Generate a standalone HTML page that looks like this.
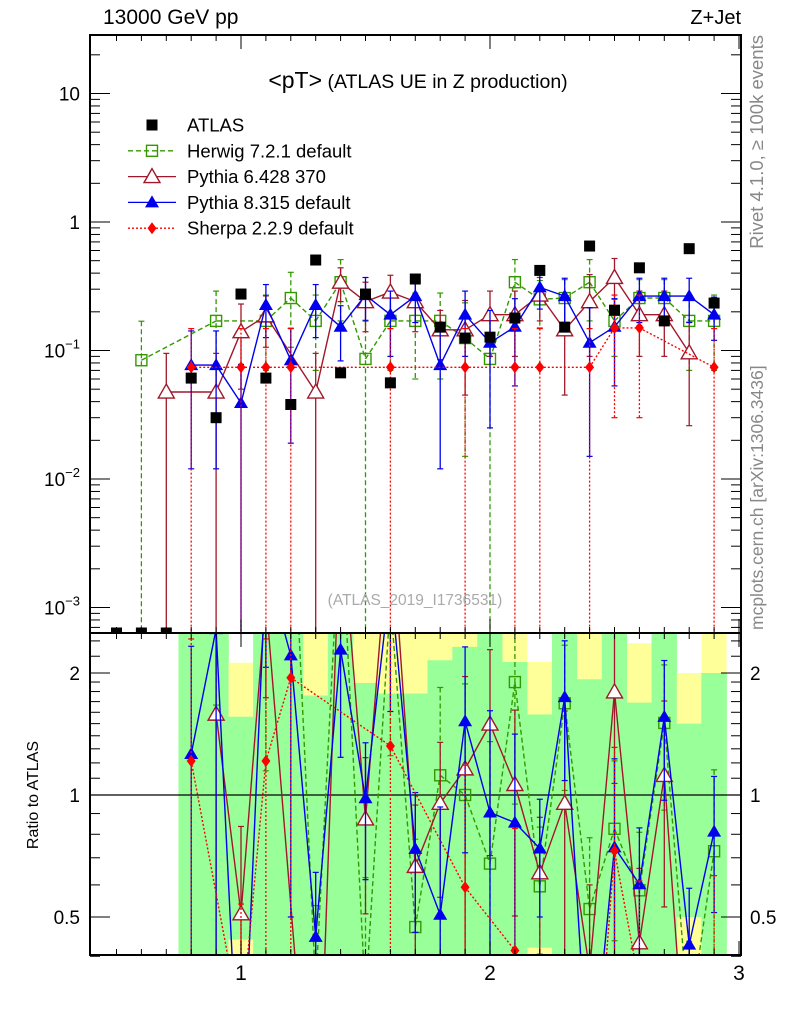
<!DOCTYPE html>
<html><head><meta charset="utf-8"><style>
html,body{margin:0;background:#fff;overflow:hidden;width:786px;height:1024px;}
svg{display:block;font-family:"Liberation Sans",sans-serif;}
</style></head><body>
<svg id="c" width="786" height="1024" xmlns="http://www.w3.org/2000/svg">
<defs>
<clipPath id="cm"><rect x="90" y="35" width="651" height="598"/></clipPath>
<clipPath id="cr"><rect x="90" y="633" width="651" height="322"/></clipPath>
</defs>
<g id="bands" clip-path="url(#cr)"></g>
<g id="main" clip-path="url(#cm)"></g>
<g id="ratio" clip-path="url(#cr)"></g>
<g id="axes"></g>
<text x="103" y="24" font-size="21">13000 GeV pp</text>
<text x="741" y="24" font-size="20" text-anchor="end">Z+Jet</text>
<text x="418" y="88" text-anchor="middle"><tspan font-size="23">&lt;pT&gt;</tspan><tspan font-size="19.5"> (ATLAS UE in Z production)</tspan></text>
<text x="415" y="605" text-anchor="middle" font-size="15.5" fill="#aaa">(ATLAS_2019_I1736531)</text>
<text transform="translate(763,35) rotate(-90)" text-anchor="end" font-size="18.5" fill="#888">Rivet 4.1.0, ≥ 100k events</text>
<text transform="translate(763,630) rotate(-90)" font-size="17.5" fill="#888">mcplots.cern.ch [arXiv:1306.3436]</text>
<text transform="translate(38,795) rotate(-90)" text-anchor="middle" font-size="16">Ratio to ATLAS</text>
<g id="legend"></g>
</svg>
<script>
const xs=[0.5,0.6,0.7,0.8,0.9,1.0,1.1,1.2,1.3,1.4,1.5,1.6,1.7,1.8,1.9,2.0,2.1,2.2,2.3,2.4,2.5,2.6,2.7,2.8,2.9];
const atlas=[0,0,0,0.061,0.030,0.275,0.061,0.038,0.506,0.067,0.275,0.056,0.36,0.152,0.125,0.127,0.179,0.42,0.152,0.65,0.206,0.44,0.17,0.62,0.234];
const herwig=[null,0.084,null,null,0.17,null,0.17,0.256,0.17,0.34,0.086,0.17,0.17,0.17,0.125,0.086,0.34,0.25,0.256,0.34,0.17,0.256,0.256,0.17,0.17];
const herwigErr=[null,0.085,null,null,0.12,null,0.1,0.15,0.1,0.17,0.086,0.1,0.11,0.11,0.11,0.086,0.17,0.1,0.1,0.17,0.08,0.1,0.1,0.1,0.1];
const py6=[null,null,0.0475,null,0.0475,0.14,0.186,null,0.0475,0.34,0.24,0.285,0.24,0.145,0.145,0.19,0.19,0.27,0.145,0.24,0.37,0.19,0.19,0.096,null];
const py6Err=[null,null,0.0475,null,0.0475,0.09,0.08,null,0.0475,0.1,0.1,0.1,0.1,0.06,0.1,0.1,0.1,0.1,0.1,0.15,0.15,0.1,0.1,0.07,null];
const py8=[null,null,null,0.077,0.077,0.039,0.226,0.084,0.226,0.153,0.27,0.19,0.265,0.077,0.19,0.115,0.153,0.31,0.265,0.115,0.153,0.265,0.265,0.265,0.19];
const py8Err=[null,null,null,0.065,0.065,0.039,0.1,0.065,0.1,0.07,0.1,0.1,0.1,0.065,0.1,0.09,0.1,0.1,0.1,0.1,0.1,0.1,0.1,0.1,0.07];
const sherpa=[null,null,null,0.074,null,0.074,0.074,0.074,null,null,null,0.074,null,null,0.074,null,0.074,0.074,null,0.074,0.15,0.15,null,null,0.074];
const sherpaErr=[null,null,null,0.074,null,0.074,0.074,0.074,null,null,null,0.074,null,null,0.074,null,0.074,0.074,null,0.074,0.12,0.12,null,null,0.074];
// ratio bands for bins 0.8..2.9
const bandX=[0.8,0.9,1.0,1.1,1.2,1.3,1.4,1.5,1.6,1.7,1.8,1.9,2.0,2.1,2.2,2.3,2.4,2.5,2.6,2.7,2.8,2.9];
const greenHi=[3,3,1.56,3,3,1.76,3,1.89,1.78,1.78,2.15,2.32,3,2.13,1.58,3,1.93,3,1.69,3,1.5,2.0];
const yellowHi=[3,3,2.12,3,3,3,3,3,3,3,3,3,3,3,2.13,3,3,3,2.37,3,2.0,3];
const greenLo=[0.3,0.3,0.44,0.3,0.3,0.3,0.3,0.3,0.3,0.3,0.3,0.3,0.3,0.3,0.42,0.3,0.3,0.3,0.3,0.3,0.5,0.3];
const yellowLo=[0.3,0.3,0.3,0.3,0.3,0.3,0.3,0.3,0.3,0.3,0.3,0.3,0.3,0.3,0.3,0.3,0.3,0.3,0.3,0.3,0.3,0.3];

const NS="http://www.w3.org/2000/svg";
const X=v=>241+(v-1)*249;
const Y=v=>222-Math.log10(v)*128.5;
const R=v=>795-Math.log2(v)*122;
function mk(tag,attrs,parent){const e=document.createElementNS(NS,tag);for(const k in attrs)e.setAttribute(k,attrs[k]);parent.appendChild(e);return e;}
const gm=document.getElementById('main'),gr=document.getElementById('ratio'),gb=document.getElementById('bands'),ga=document.getElementById('axes'),gl=document.getElementById('legend');

bandX.forEach((bx,i)=>{
  const x0=X(bx-0.05),w=X(bx+0.05)-x0;
  const yt=Math.max(R(yellowHi[i]),633), yb=Math.min(R(yellowLo[i]),955);
  let r=mk('rect',{x:x0,y:yt,width:w,height:yb-yt,fill:'#ffff99'},gb);
  
  
  const gt=Math.max(R(greenHi[i]),633), gbm=Math.min(R(greenLo[i]),955);
  r=mk('rect',{x:x0-0.3,y:gt,width:w+0.6,height:gbm-gt,fill:'#99ff99'},gb);
  
  
});

function marker(g,kind,cx,cy,col){
  let e;
  if(kind==='sq') e=mk('rect',{x:cx-5.5,y:cy-5.5,width:11,height:11,fill:'none',stroke:col,'stroke-width':1.4},g);
  else if(kind==='tri') e=mk('polygon',{points:`${cx},${cy-8} ${cx-8},${cy+6} ${cx+8},${cy+6}`,fill:'#fff',stroke:col,'stroke-width':1.4},g);
  else if(kind==='ftri') e=mk('polygon',{points:`${cx},${cy-7} ${cx-7},${cy+5} ${cx+7},${cy+5}`,fill:col},g);
  else if(kind==='dia') e=mk('polygon',{points:`${cx},${cy-6} ${cx-4.5},${cy} ${cx},${cy+6} ${cx+4.5},${cy}`,fill:col},g);
  else e=mk('rect',{x:cx-5.5,y:cy-5.5,width:11,height:11,fill:'#000'},g);
  return e;
}
const series=[
 {name:'herwig',vals:herwig,err:herwigErr,col:'#339900',dash:'5,3',kind:'sq'},
 {name:'pythia6',vals:py6,err:py6Err,col:'#a0182a',dash:'',kind:'tri'},
 {name:'pythia8',vals:py8,err:py8Err,col:'#0000ee',dash:'',kind:'ftri'},
 {name:'sherpa',vals:sherpa,err:sherpaErr,col:'#ff0000',dash:'2,2',kind:'dia'}
];
// clip a segment to y range [ylo,yhi]
function clipSeg(a,b,ylo,yhi){
  let [x1,y1]=a,[x2,y2]=b;
  if((y1<ylo&&y2<ylo)||(y1>yhi&&y2>yhi))return null;
  const at=y=>x1+(x2-x1)*(y-y1)/(y2-y1);
  if(y1<ylo){x1=at(ylo);y1=ylo;} else if(y1>yhi){x1=at(yhi);y1=yhi;}
  const ax=a[0],ay=a[1];
  const at2=y=>ax+(b[0]-ax)*(y-ay)/(b[1]-ay);
  if(y2<ylo){x2=at2(ylo);y2=ylo;} else if(y2>yhi){x2=at2(yhi);y2=yhi;}
  return [[x1,y1],[x2,y2]];
}
function drawSeries(s,g,fy,ratio){
  const top=ratio?630:32,bot=ratio?958:636;
  const pts=[];
  s.vals.forEach((v,i)=>{
    if(v==null)return;
    let val=v,er=s.err[i];
    if(ratio){if(!atlas[i])return;val=v/atlas[i];er=er/atlas[i];}
    const cx=X(xs[i]);
    const lo=val-er>0?Math.min(fy(val-er),bot):bot, hi=Math.max(fy(val+er),top);
    if(lo>hi){
      let e=mk('line',{x1:cx,x2:cx,y1:hi,y2:lo,stroke:s.col,'stroke-width':1.3,'stroke-dasharray':s.dash},g);
      
      
      if(hi>top) mk('line',{x1:cx-3,x2:cx+3,y1:hi,y2:hi,stroke:s.col,'stroke-width':1.2},g);
      if(lo<bot) mk('line',{x1:cx-3,x2:cx+3,y1:lo,y2:lo,stroke:s.col,'stroke-width':1.2},g);
    }
    pts.push([cx,fy(val)]);
  });
  let d='';
  for(let k=0;k+1<pts.length;k++){
    const c=clipSeg(pts[k],pts[k+1],top,bot);
    if(c)d+=`M${c[0][0].toFixed(1)},${c[0][1].toFixed(1)}L${c[1][0].toFixed(1)},${c[1][1].toFixed(1)}`;
  }
  const p=mk('path',{d:d,fill:'none',stroke:s.col,'stroke-width':1.4,'stroke-dasharray':s.dash},g);
  
  
  pts.forEach(q=>{if(q[1]<top-8||q[1]>bot+8)return;const m=marker(g,s.kind,q[0],q[1],s.col);
    
    });
}
series.forEach(s=>drawSeries(s,gm,Y,false));
atlas.forEach((v,i)=>{
  const cy=v>0?Y(v):633;
  const m=marker(gm,'data',X(xs[i]),cy,'#000');
  
  
});
let ul=mk('line',{x1:90,x2:741,y1:R(1),y2:R(1),stroke:'#000','stroke-width':1.2},gr);


series.forEach(s=>drawSeries(s,gr,R,true));

[[35,633],[633,955]].forEach(([t,b])=>{
  const f=mk('rect',{x:90,y:t,width:651,height:b-t,fill:'none',stroke:'#000','stroke-width':2},ga);
  
  
  for(let k=5;k<=30;k++){const v=k/10,x=X(v),L=(k%10===0)?14:6;
    mk('line',{x1:x,x2:x,y1:t,y2:t+L,stroke:'#000','stroke-width':1},ga);
    mk('line',{x1:x,x2:x,y1:b,y2:b-L,stroke:'#000','stroke-width':1},ga);}
});
const mainTicks=['10⁻³','10⁻²','10⁻¹','1','10'];
for(let d=-4;d<=1;d++){for(let m=1;m<10;m++){const v=m*Math.pow(10,d),y=Y(v);if(y<35||y>633)continue;
  const L=m===1?20:10;
  mk('line',{x1:90,x2:90+L,y1:y,y2:y,stroke:'#000','stroke-width':1},ga);
  mk('line',{x1:741,x2:741-L,y1:y,y2:y,stroke:'#000','stroke-width':1},ga);
  if(m===1){const t=mk('text',{x:80,y:y+7,'font-size':19,'text-anchor':'end'},ga);
    const idx=d+3;
    if(idx<=2){t.innerHTML='10<tspan font-size="13" dy="-9">−'+(3-idx)+'</tspan>';}else t.textContent=mainTicks[idx];
    
    }
}}
const rTicks=[0.4,0.5,0.6,0.7,0.8,0.9,1,1.1,1.2,1.3,1.4,1.5,1.6,1.7,1.8,1.9,2,2.2,2.4];
const rLabels=[0.5,1,2];
rTicks.forEach(v=>{const y=R(v),L=rLabels.includes(v)?20:10;
  mk('line',{x1:90,x2:90+L,y1:y,y2:y,stroke:'#000','stroke-width':1},ga);
  mk('line',{x1:741,x2:741-L,y1:y,y2:y,stroke:'#000','stroke-width':1},ga);});
rLabels.forEach(v=>{
  let t=mk('text',{x:80,y:R(v)+7,'font-size':19,'text-anchor':'end'},ga);t.textContent=v;
  
  
  t=mk('text',{x:750,y:R(v)+7,'font-size':19},ga);t.textContent=v;
  
  });
[1,2,3].forEach(v=>{const t=mk('text',{x:X(v),y:980,'font-size':21,'text-anchor':'middle'},ga);t.textContent=v;
  
  });

const legItems=[['ATLAS','data','#000',''],['Herwig 7.2.1 default','sq','#339900','5,3'],['Pythia 6.428 370','tri','#a0182a',''],['Pythia 8.315 default','ftri','#0000ee',''],['Sherpa 2.2.9 default','dia','#ff0000','2,2']];
legItems.forEach((it,i)=>{const y=125+i*25.8;
  if(i>0){const l=mk('line',{x1:128,x2:176,y1:y,y2:y,stroke:it[2],'stroke-width':1.3,'stroke-dasharray':it[3]},gl);
    }
  const m=marker(gl,it[1],152,y,it[2]);
  
  
  const t=mk('text',{x:187,y:y+6.5,'font-size':18.5},gl);t.textContent=it[0];
  
  });
</script>
</body></html>
